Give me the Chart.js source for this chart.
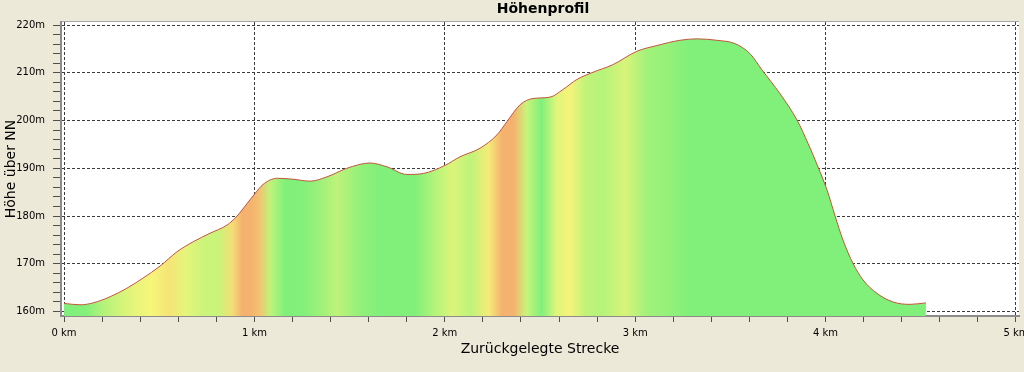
<!DOCTYPE html>
<html>
<head>
<meta charset="utf-8">
<title>Höhenprofil</title>
<script src="https://cdn.jsdelivr.net/npm/chart.js@4.4.1/dist/chart.umd.min.js"></script>
<style>
    html, body { margin: 0; padding: 0; background: #ECE9D8; }
    #profileChart { display: block; }
</style>
</head>
<body>
<canvas id="profileChart" width="1024" height="372"></canvas>
<script>
const chartTitle = 'Höhenprofil';
const xAxisTitle = 'Zurückgelegte Strecke';
const yAxisTitle = 'Höhe über NN';

// distance along the track (km) and elevation (m)
const distanceKm = [0.000, 0.084, 0.152, 0.242, 0.331, 0.415, 0.504, 0.593, 0.678, 0.767,
    0.856, 0.909, 0.961, 1.003, 1.045, 1.119, 1.203, 1.292, 1.381, 1.486,
    1.607, 1.696, 1.801, 1.886, 2.001, 2.080, 2.185, 2.274, 2.327, 2.395,
    2.463, 2.553, 2.621, 2.694, 2.778, 2.883, 3.009, 3.114, 3.235, 3.324,
    3.429, 3.524, 3.603, 3.666, 3.761, 3.850, 3.908, 3.960, 4.008, 4.050,
    4.092, 4.145, 4.197, 4.270, 4.354, 4.443, 4.527];
const elevationM = [161.7, 161.4, 161.8, 163.1, 164.9, 167.0, 169.5, 172.5, 174.6, 176.4,
    178.1, 180.0, 182.6, 184.7, 186.6, 187.9, 187.7, 187.3, 188.2, 190.0,
    191.1, 190.3, 188.7, 188.9, 190.6, 192.4, 194.2, 197.0, 199.8, 203.3,
    204.6, 204.9, 206.5, 208.6, 210.1, 211.7, 214.5, 215.7, 216.8, 217.1,
    216.8, 216.1, 214.0, 210.6, 205.6, 200.1, 195.2, 190.3, 185.4, 180.0,
    174.9, 170.0, 166.6, 163.8, 162.0, 161.5, 161.8];

const xTickValues = [0, 0.2, 0.4, 0.6, 0.8, 1, 1.2, 1.4, 1.6, 1.8, 2, 2.2, 2.4, 2.6, 2.8,
    3, 3.2, 3.4, 3.6, 3.8, 4, 4.2, 4.4, 4.6, 4.8, 5];
const yTickValues = [160, 162, 164, 166, 168, 170, 172, 174, 176, 178, 180, 182, 184, 186, 188,
    190, 192, 194, 196, 198, 200, 202, 204, 206, 208, 210, 212, 214, 216, 218, 220];

// grade (%) -> fill colour: flat green, moderate yellow, steep orange
const gradeStops = [0.5, 2.8, 5.0];
const gradeColors = [[128, 240, 122], [246, 246, 122], [244, 178, 110]];

const fontFamily = '"DejaVu Sans", Tahoma, sans-serif';

const gradeColor = (g) => {
    if (g <= gradeStops[0]) return gradeColors[0];
    for (let i = 1; i < gradeStops.length; i++) {
        if (g <= gradeStops[i]) {
            const t = (g - gradeStops[i - 1]) / (gradeStops[i] - gradeStops[i - 1]);
            const a = gradeColors[i - 1], b = gradeColors[i];
            return a.map((v, k) => Math.round(v + (b[k] - v) * t));
        }
    }
    return gradeColors[gradeColors.length - 1];
};

const rgb = (c) => `rgb(${c[0]},${c[1]},${c[2]})`;

const slopeFill = (context) => {
    const chart = context.chart;
    if (!chart.chartArea || !chart.scales.x) return rgb(gradeColors[0]);
    const xScale = chart.scales.x;
    const first = distanceKm[0];
    const last = distanceKm[distanceKm.length - 1];
    const gradient = chart.ctx.createLinearGradient(
        xScale.getPixelForValue(first), 0, xScale.getPixelForValue(last), 0);
    let lastColor = gradeColors[0];
    gradient.addColorStop(0, rgb(gradeColors[0]));
    for (let i = 0; i < distanceKm.length - 1; i++) {
        const run = (distanceKm[i + 1] - distanceKm[i]) * 1000;
        const grade = (elevationM[i + 1] - elevationM[i]) / run * 100;
        const mid = (distanceKm[i] + distanceKm[i + 1]) / 2;
        lastColor = gradeColor(grade);
        gradient.addColorStop((mid - first) / (last - first), rgb(lastColor));
    }
    gradient.addColorStop(1, rgb(lastColor));
    return gradient;
};

const backgroundPlugin = {
    id: 'panelBackground',
    beforeDraw(chart) {
        const { ctx, chartArea } = chart;
        ctx.save();
        ctx.fillStyle = '#ECE9D8';
        ctx.fillRect(0, 0, chart.width, chart.height);
        ctx.fillStyle = '#FFFFFF';
        ctx.fillRect(chartArea.left, chartArea.top, chartArea.right - chartArea.left, chartArea.bottom - chartArea.top);
        ctx.strokeStyle = '#A8A8A8';
        ctx.lineWidth = 1;
        ctx.beginPath();
        ctx.moveTo(chartArea.left, chartArea.top - 0.5);
        ctx.lineTo(chartArea.right, chartArea.top - 0.5);
        ctx.stroke();
        ctx.restore();
    }
};

const titlePlugin = {
    id: 'plotTitle',
    afterDraw(chart) {
        const { ctx, chartArea } = chart;
        ctx.save();
        ctx.font = 'bold 14px ' + fontFamily;
        ctx.fillStyle = '#000000';
        ctx.textAlign = 'center';
        ctx.textBaseline = 'middle';
        ctx.fillText(chartTitle, (chartArea.left + chartArea.right) / 2 + 3, 9);
        ctx.restore();
    }
};

const majorGrid = (isMajor) => (ctx) => (ctx.tick && isMajor(ctx.tick.value)) ? '#3C3C3C' : 'rgba(0,0,0,0)';

new Chart(document.getElementById('profileChart'), {
    type: 'line',
    data: {
        datasets: [{
            label: yAxisTitle,
            data: distanceKm.map((d, i) => ({ x: d, y: elevationM[i] })),
            borderColor: '#C4553C',
            borderWidth: 1,
            pointRadius: 0,
            cubicInterpolationMode: 'monotone',
            fill: 'start',
            backgroundColor: slopeFill
        }]
    },
    options: {
        responsive: false,
        animation: false,
        devicePixelRatio: 1,
        layout: { padding: { top: 22, right: 5, left: 0, bottom: 0 } },
        plugins: {
            legend: { display: false },
            title: { display: false },
            tooltip: { enabled: false }
        },
        scales: {
            x: {
                type: 'linear',
                min: -0.016,
                max: 5.016,
                z: 1,
                afterBuildTicks: (axis) => { axis.ticks = xTickValues.map(v => ({ value: v })); },
                afterFit: (axis) => { axis.height = 56; axis.paddingLeft = 0; axis.paddingRight = 0; },
                ticks: {
                    autoSkip: false,
                    maxRotation: 0,
                    padding: 5,
                    color: '#000000',
                    font: { family: fontFamily, size: 10 },
                    callback: (v) => Number.isInteger(v) ? v + ' km' : ''
                },
                grid: {
                    color: majorGrid(v => Number.isInteger(v)),
                    tickColor: '#505050',
                    tickLength: 6,
                    lineWidth: 1
                },
                border: { display: true, color: '#8C8C8C', width: 2, dash: [3, 2] },
                title: {
                    display: true,
                    text: xAxisTitle,
                    color: '#000000',
                    font: { family: fontFamily, size: 14 },
                    padding: { top: 0, bottom: 14 }
                }
            },
            y: {
                type: 'linear',
                min: 159.06,
                max: 220.63,
                z: 1,
                afterBuildTicks: (axis) => { axis.ticks = yTickValues.map(v => ({ value: v })); },
                afterFit: (axis) => { axis.width = 61; axis.paddingTop = 0; axis.paddingBottom = 0; },
                ticks: {
                    autoSkip: false,
                    padding: 8,
                    color: '#000000',
                    font: { family: fontFamily, size: 10 },
                    callback: (v) => v % 10 === 0 ? v + 'm' : ''
                },
                grid: {
                    color: majorGrid(v => v % 10 === 0),
                    tickColor: '#505050',
                    tickLength: 8,
                    lineWidth: 1
                },
                border: { display: true, color: '#8C8C8C', width: 2, dash: [3, 2] },
                title: {
                    display: true,
                    text: yAxisTitle,
                    color: '#000000',
                    font: { family: fontFamily, size: 14 },
                    padding: { top: 3, bottom: 0 }
                }
            }
        }
    },
    plugins: [backgroundPlugin, titlePlugin]
});
</script>
</body>
</html>
